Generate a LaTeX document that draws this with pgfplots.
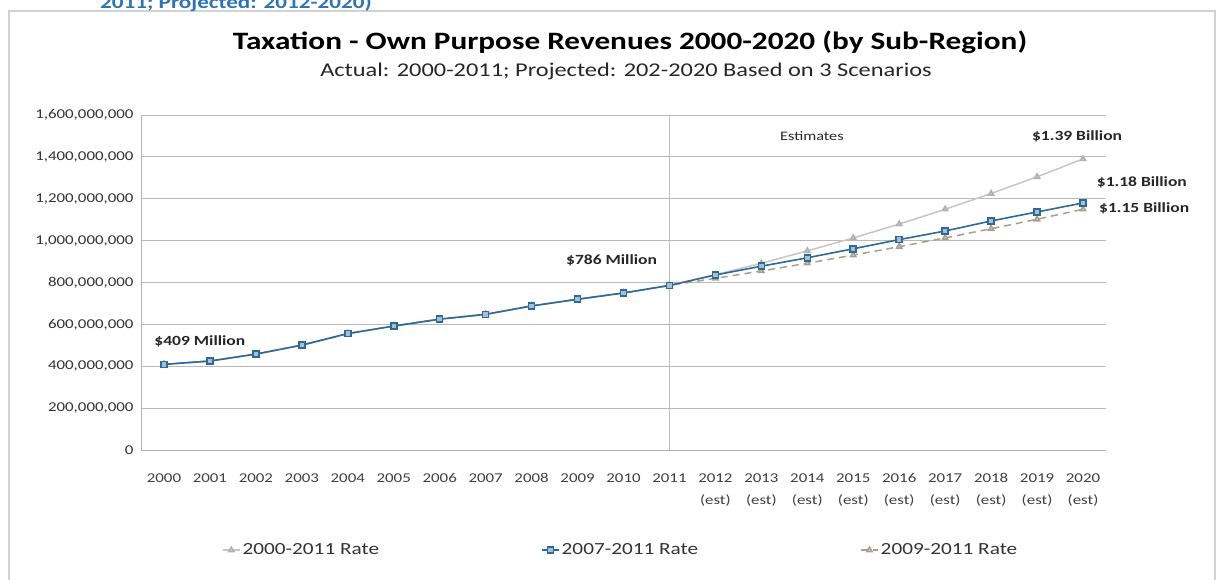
\documentclass[border=0pt]{standalone}
\usepackage{fontspec}
\setmainfont[FakeStretch=1.25]{Carlito}
\usepackage{pgfplots}
\pgfplotsset{compat=1.18}
\definecolor{blueline}{HTML}{2C6A9A}
\definecolor{bluefill}{HTML}{A9BFD0}
\definecolor{grayline}{HTML}{C6C6C6}
\definecolor{tanline}{HTML}{A89F8E}
\definecolor{tanfill}{HTML}{DCCBA8}
\definecolor{headblue}{HTML}{2E74B5}
\definecolor{framec}{HTML}{D2D2D2}
\begin{document}
\begin{tikzpicture}
\draw[framec, line width=1.5pt] (9pt,-11pt) rectangle (1215pt,-600pt);
\node[anchor=base west, font=\fontsize{18.5}{21}\selectfont\bfseries, text=headblue, inner sep=0pt] at (100pt,-8pt) {2011; Projected: 2012-2020)};
\node[font=\fontsize{25}{29}\selectfont\bfseries] at (630pt,-42pt) {Taxation - Own Purpose Revenues 2000-2020 (by Sub-Region)};
\node[font=\fontsize{19.5}{22}\selectfont, text=black!85] at (626pt,-71pt) {Actual: 2000-2011; Projected: 202-2020 Based on 3 Scenarios};
\begin{axis}[
  at={(141pt,-450pt)}, anchor=south west,
  scale only axis, width=965pt, height=335pt,
  xmin=-0.5, xmax=20.5, ymin=0, ymax=1600,
  clip=false,
  axis x line*=bottom, axis y line*=left,
  axis line style={gray!60, line width=0.8pt},
  ymajorgrids, grid style={gray!55, line width=0.8pt},
  major tick length=0pt,
  ytick={0,200,400,600,800,1000,1200,1400,1600},
  yticklabels={{0},{200,000,000},{400,000,000},{600,000,000},{800,000,000},{1,000,000,000},{1,200,000,000},{1,400,000,000},{1,600,000,000}},
  yticklabel style={font=\fontsize{13.5}{15}\selectfont, text=black!80, xshift=-4pt},
  xtick={0,...,20},
  xticklabels={2000,2001,2002,2003,2004,2005,2006,2007,2008,2009,2010,2011,{2012\\(est)},{2013\\(est)},{2014\\(est)},{2015\\(est)},{2016\\(est)},{2017\\(est)},{2018\\(est)},{2019\\(est)},{2020\\(est)}},
  xticklabel style={align=center, anchor=north, font=\fontsize{13.5}{22}\selectfont, text=black!75, yshift=-20pt},
  legend style={at={(0.497,-0.2985)}, anchor=center, draw=none, fill=none,
    legend columns=3, font=\fontsize{17}{20}\selectfont, text=black!80,
    /tikz/every even column/.append style={column sep=160pt}},
  legend cell align=left,
]
\addplot[forget plot, gray!50, line width=0.8pt] coordinates {(11,0) (11,1600)};
\addplot[grayline, line width=1.5pt, mark=triangle*, mark size=3pt, mark options={fill=grayline, draw=gray!60}]
 coordinates {(0,409)(1,425)(2,458)(3,501)(4,556)(5,592)(6,625)(7,648)(8,688)(9,720)(10,750)(11,786)(12,837)(13,892)(14,951)(15,1013)(16,1079)(17,1150)(18,1225)(19,1305)(20,1390)};
\addlegendentry{2000-2011 Rate}
\addplot[forget plot, tanline, line width=1.5pt, dash pattern=on 7pt off 5pt, mark=triangle*, mark size=3pt, mark options={solid, fill=tanfill, draw=tanline}]
 coordinates {(0,409)(1,425)(2,458)(3,501)(4,556)(5,592)(6,625)(7,648)(8,688)(9,720)(10,750)(11,786)(12,820)(13,855)(14,892)(15,931)(16,971)(17,1013)(18,1057)(19,1102)(20,1150)};
\addplot[blueline, line width=1.6pt, mark=square*, mark size=3pt, mark options={fill=bluefill, draw=blueline}]
 coordinates {(0,409)(1,425)(2,458)(3,501)(4,556)(5,592)(6,625)(7,648)(8,688)(9,720)(10,750)(11,786)(12,836)(13,878)(14,918)(15,961)(16,1005)(17,1046)(18,1094)(19,1137)(20,1180)};
\addlegendentry{2007-2011 Rate}
\addlegendimage{tanline, line width=1.5pt, dash pattern=on 7pt off 5pt, mark=triangle*, mark size=3pt, mark options={solid, fill=tanfill, draw=tanline}}
\addlegendentry{2009-2011 Rate}
\node[font=\fontsize{14}{16}\selectfont\bfseries, text=black!85] at (axis cs:0.78,521) {\$409 Million};
\node[font=\fontsize{14}{16}\selectfont\bfseries, text=black!85] at (axis cs:9.74,907) {\$786 Million};
\node[font=\fontsize{13}{15}\selectfont, text=black!85] at (axis cs:14.1,1500) {Estimates};
\node[font=\fontsize{14}{16}\selectfont\bfseries, text=black!85] at (axis cs:19.87,1500) {\$1.39 Billion};
\node[font=\fontsize{14}{16}\selectfont\bfseries, text=black!85] at (axis cs:21.28,1280) {\$1.18 Billion};
\node[font=\fontsize{14}{16}\selectfont\bfseries, text=black!85] at (axis cs:21.33,1156) {\$1.15 Billion};
\end{axis}
\pgfresetboundingbox
\useasboundingbox (0pt,0pt) rectangle (1223pt,-579pt);
\end{tikzpicture}
\end{document}
